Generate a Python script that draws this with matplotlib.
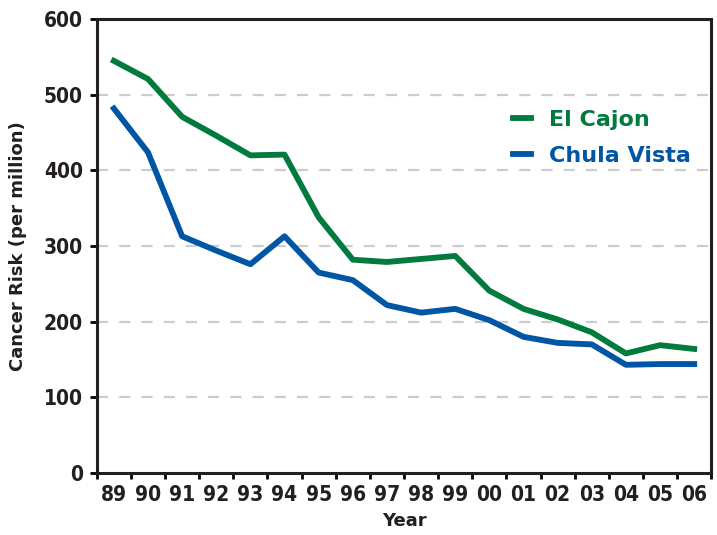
import numpy as np
import matplotlib.pyplot as plt

years = ["89", "90", "91", "92", "93", "94", "95", "96", "97",
         "98", "99", "00", "01", "02", "03", "04", "05", "06"]
el_cajon = [545, 521, 471, 446, 420, 421, 338, 282, 279,
            283, 287, 241, 217, 203, 186, 158, 169, 164]
chula_vista = [482, 424, 313, 294, 276, 313, 265, 255, 222,
               212, 217, 202, 180, 172, 170, 143, 144, 144]

green = "#007a3d"
blue = "#0055a4"
ink = "#231f20"

fig = plt.figure(figsize=(7.17, 5.35), dpi=100)
ax = fig.add_axes([0.135, 0.116, 0.857, 0.848])

x = np.arange(len(years))
ax.plot(x, el_cajon, color=green, lw=4.2, label="El Cajon")
ax.plot(x, chula_vista, color=blue, lw=4.2, label="Chula Vista")

# dashed grid lines (not at 0 or 600)
for yv in range(100, 600, 100):
    ax.axhline(yv, color="#cccccc", lw=1.6, dashes=(5, 5), zorder=0)

ax.set_xlim(-0.5, 17.5)
ax.set_ylim(0, 600)
ax.set_yticks(range(0, 601, 100))
ax.set_xticks(x)
ax.set_xticklabels(years)
ax.set_xticks(np.arange(-0.5, 18, 1), minor=True)
ax.tick_params(axis="x", which="major", length=0, pad=9)
ax.tick_params(axis="x", which="minor", length=4, width=2, direction="out")
ax.tick_params(axis="y", length=5, width=2, direction="out", pad=5)

for lab in ax.get_xticklabels() + ax.get_yticklabels():
    lab.set_family("DejaVu Sans")
    lab.set_stretch("condensed")
    lab.set_fontweight("bold")
    lab.set_fontsize(15)
    lab.set_color(ink)

for sp in ax.spines.values():
    sp.set_linewidth(2.2)
    sp.set_color(ink)

ax.set_xlabel("Year", fontweight="bold", fontsize=13, color=ink, labelpad=5)
ax.set_ylabel("Cancer Risk (per million)", fontweight="bold", fontsize=13,
              color=ink, labelpad=12)

leg = ax.legend(loc="upper left", bbox_to_anchor=(0.6775, 0.80), frameon=False,
                borderpad=0, borderaxespad=0,
                handlelength=0.8, handletextpad=0.8, labelspacing=0.72,
                prop={"family": "DejaVu Sans", "weight": "bold", "size": 16},
                labelcolor="linecolor")

fig.savefig("out.png", dpi=100)
